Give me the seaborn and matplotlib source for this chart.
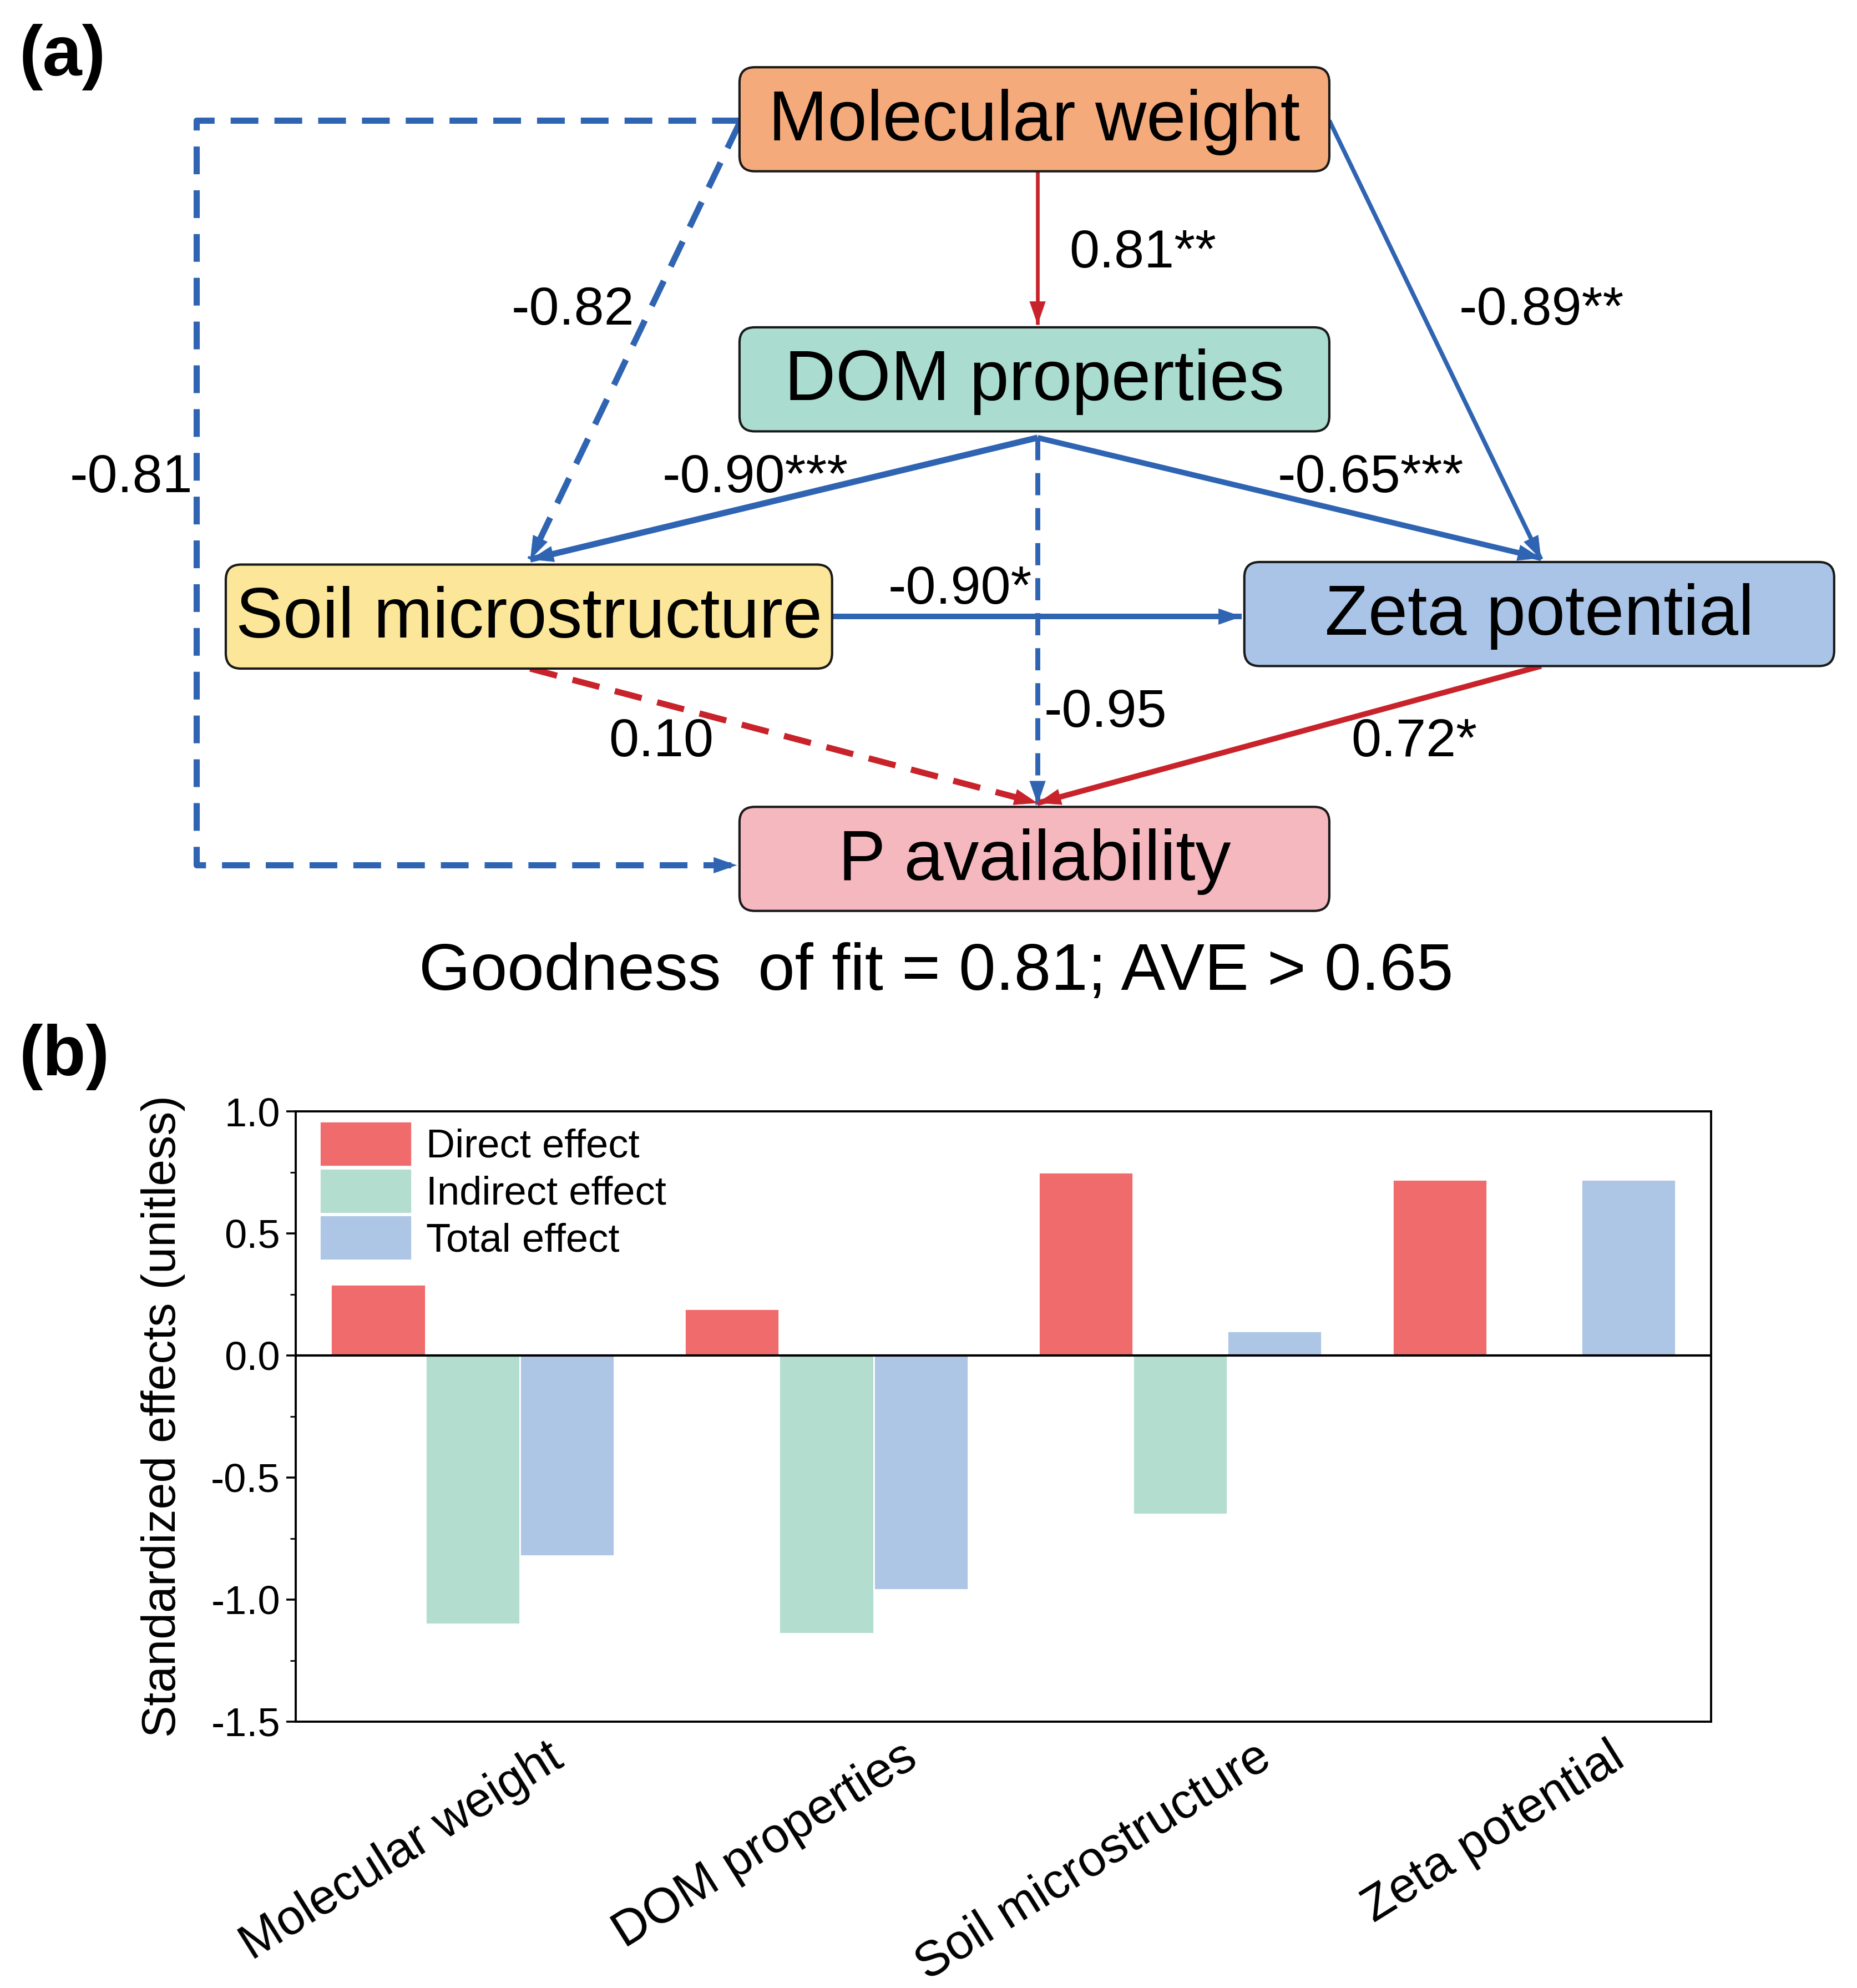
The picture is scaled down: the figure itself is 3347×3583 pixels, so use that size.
import matplotlib
matplotlib.use("Agg")
import matplotlib.pyplot as plt
import matplotlib.transforms as mtransforms
from matplotlib.patches import FancyBboxPatch
from matplotlib.ticker import MultipleLocator
import seaborn as sns
import pandas as pd

# data for panel (b)
variables = ["Molecular weight", "DOM properties", "Soil microstructure", "Zeta potential"]
direct_effect = [0.29, 0.19, 0.75, 0.72]
indirect_effect = [-1.10, -1.14, -0.65, 0.0]
total_effect = [-0.82, -0.96, 0.10, 0.72]
effect_names = ["Direct effect", "Indirect effect", "Total effect"]
effect_colors = ["#F06B6C", "#B2DDCF", "#ADC6E6"]

# data for panel (a): path coefficients
nodes = ["Molecular weight", "DOM properties", "Soil microstructure", "Zeta potential", "P availability"]
node_colors = ["#F5AA7B", "#AADCD0", "#FCE69A", "#A9C4E6", "#F5B8BE"]
path_labels = ["0.81**", "-0.82", "-0.81", "-0.89**", "-0.90***", "-0.65***",
               "-0.95", "-0.90*", "0.10", "0.72*"]

sns.set_style("ticks")
plt.rcParams["font.family"] = ["Liberation Sans", "DejaVu Sans"]
plt.rcParams["text.color"] = "black"
plt.rcParams["axes.labelcolor"] = "black"
plt.rcParams["xtick.color"] = "black"
plt.rcParams["ytick.color"] = "black"

fig = plt.figure(figsize=(16.735, 17.915), dpi=200)

# ---------------- panel (a): path diagram ----------------
W, H = 1464, 1567
axa = fig.add_axes([0, 0, 1, 1])
axa.set_xlim(0, W)
axa.set_ylim(H, 0)
axa.axis("off")

blue = "#2F64B2"
red = "#C8232B"

# box geometry (x0, y0, width, height) in picture units
boxes = {
    "Molecular weight": (583, 53, 465, 82),
    "DOM properties": (583, 258, 465, 82),
    "Soil microstructure": (178, 445, 478, 82),
    "Zeta potential": (981, 443, 465, 82),
    "P availability": (583, 636, 465, 82),
}
for name, col in zip(nodes, node_colors):
    x0, y0, w, h = boxes[name]
    axa.add_patch(FancyBboxPatch((x0, y0), w, h,
                                 boxstyle="round,pad=0,rounding_size=12",
                                 fc=col, ec="#1a1a1a", lw=1.5, zorder=3))
    axa.text(x0 + w / 2, y0 + h / 2 + 2, name, ha="center", va="center",
             fontsize=46, zorder=4)


def arrow_head(p0, p1, color):
    axa.annotate("", xy=p1, xytext=p0,
                 arrowprops=dict(arrowstyle="-|>,head_length=0.75,head_width=0.26",
                                 color=color, lw=0.1, shrinkA=0, shrinkB=0,
                                 mutation_scale=20), zorder=5)


def path(points, color, lw, dashed=False):
    xs = [p[0] for p in points]
    ys = [p[1] for p in points]
    if dashed:
        axa.plot(xs, ys, color=color, lw=lw, ls=(0, (4.5, 2.6)), zorder=2,
                 solid_capstyle="butt", dash_capstyle="butt")
    else:
        axa.plot(xs, ys, color=color, lw=lw, zorder=2, solid_capstyle="butt")
    a, b = points[-2], points[-1]
    dx, dy = b[0] - a[0], b[1] - a[1]
    L = (dx ** 2 + dy ** 2) ** 0.5
    start = (b[0] - dx / L * 18, b[1] - dy / L * 18)
    arrow_head(start, b, color)


path([(818, 135), (818, 256)], red, 2.4)
path([(583, 97), (418, 441)], blue, 4.0, dashed=True)
path([(583, 95), (155, 95), (155, 682), (581, 682)], blue, 4.0, dashed=True)
path([(1048, 95), (1215, 441)], blue, 2.8)
path([(818, 345), (418, 441)], blue, 4.0)
path([(818, 345), (1215, 440)], blue, 3.6)
path([(818, 345), (818, 634)], blue, 3.2, dashed=True)
path([(656, 486), (979, 486)], blue, 3.6)
path([(418, 527), (818, 633)], red, 4.0, dashed=True)
path([(1215, 525), (818, 633)], red, 3.6)

label_pos = [(843, 200, "left"), (500, 245, "right"), (152, 377, "right"),
             (1150, 245, "left"), (522, 377, "left"), (1007, 377, "left"),
             (823, 562, "left"), (700, 465, "left"), (480, 585, "left"),
             (1065, 585, "left")]
for (x, y, ha), lab in zip(label_pos, path_labels):
    axa.text(x, y, lab, ha=ha, va="center", fontsize=35, zorder=6)

axa.text(738, 767, "Goodness  of fit = 0.81; AVE > 0.65", ha="center",
         va="center", fontsize=43)
axa.text(15, 45, "(a)", ha="left", va="center", fontsize=46, fontweight="bold")
axa.text(15, 833, "(b)", ha="left", va="center", fontsize=46, fontweight="bold")

# ---------------- panel (b): effects bar chart ----------------
df = pd.DataFrame({
    "variable": variables * 3,
    "effect": [e for e in effect_names for _ in variables],
    "value": direct_effect + indirect_effect + total_effect,
})

axb = fig.add_axes([233 / W, 1 - 1357 / H, (1349 - 233) / W, (1357 - 876) / H])
sns.barplot(data=df, x="variable", y="value", hue="effect", order=variables,
            hue_order=effect_names, palette=effect_colors, saturation=1,
            width=0.8, ax=axb)
axb.axhline(0, color="black", lw=1.5, zorder=5)
axb.set_ylim(-1.5, 1.0)
axb.yaxis.set_minor_locator(MultipleLocator(0.25))
axb.set_yticks([1.0, 0.5, 0.0, -0.5, -1.0, -1.5])
axb.set_yticklabels(["1.0", "0.5", "0.0", "-0.5", "-1.0", "-1.5"])
axb.tick_params(axis="y", which="major", direction="out", length=6, width=1.3,
                labelsize=26, pad=4)
axb.tick_params(axis="y", which="minor", direction="out", length=3.5, width=1.0)
axb.tick_params(axis="x", length=0, labelsize=32, pad=4)
for sp in axb.spines.values():
    sp.set_visible(True)
    sp.set_linewidth(1.4)
    sp.set_color("black")
axb.set_xlabel("")
axb.set_ylabel("Standardized effects (unitless)", fontsize=31)
axb.yaxis.set_label_coords(-(233 - 146) / 1116, 0.5)

offset = mtransforms.ScaledTranslation(48 / 72, -4 / 72, fig.dpi_scale_trans)
for lab in axb.get_xticklabels():
    lab.set_rotation(32)
    lab.set_ha("right")
    lab.set_va("top")
    lab.set_rotation_mode("anchor")
    lab.set_transform(lab.get_transform() + offset)

handles, labels = axb.get_legend_handles_labels()
axb.legend(handles, labels, loc="upper left", bbox_to_anchor=(0.01, 1.0),
           frameon=False, fontsize=26, handlelength=2.3, handleheight=1.35,
           labelspacing=0.05, handletextpad=0.35, borderaxespad=0.15,
           borderpad=0.1)

fig.savefig("out.png", dpi=200, facecolor="white")
